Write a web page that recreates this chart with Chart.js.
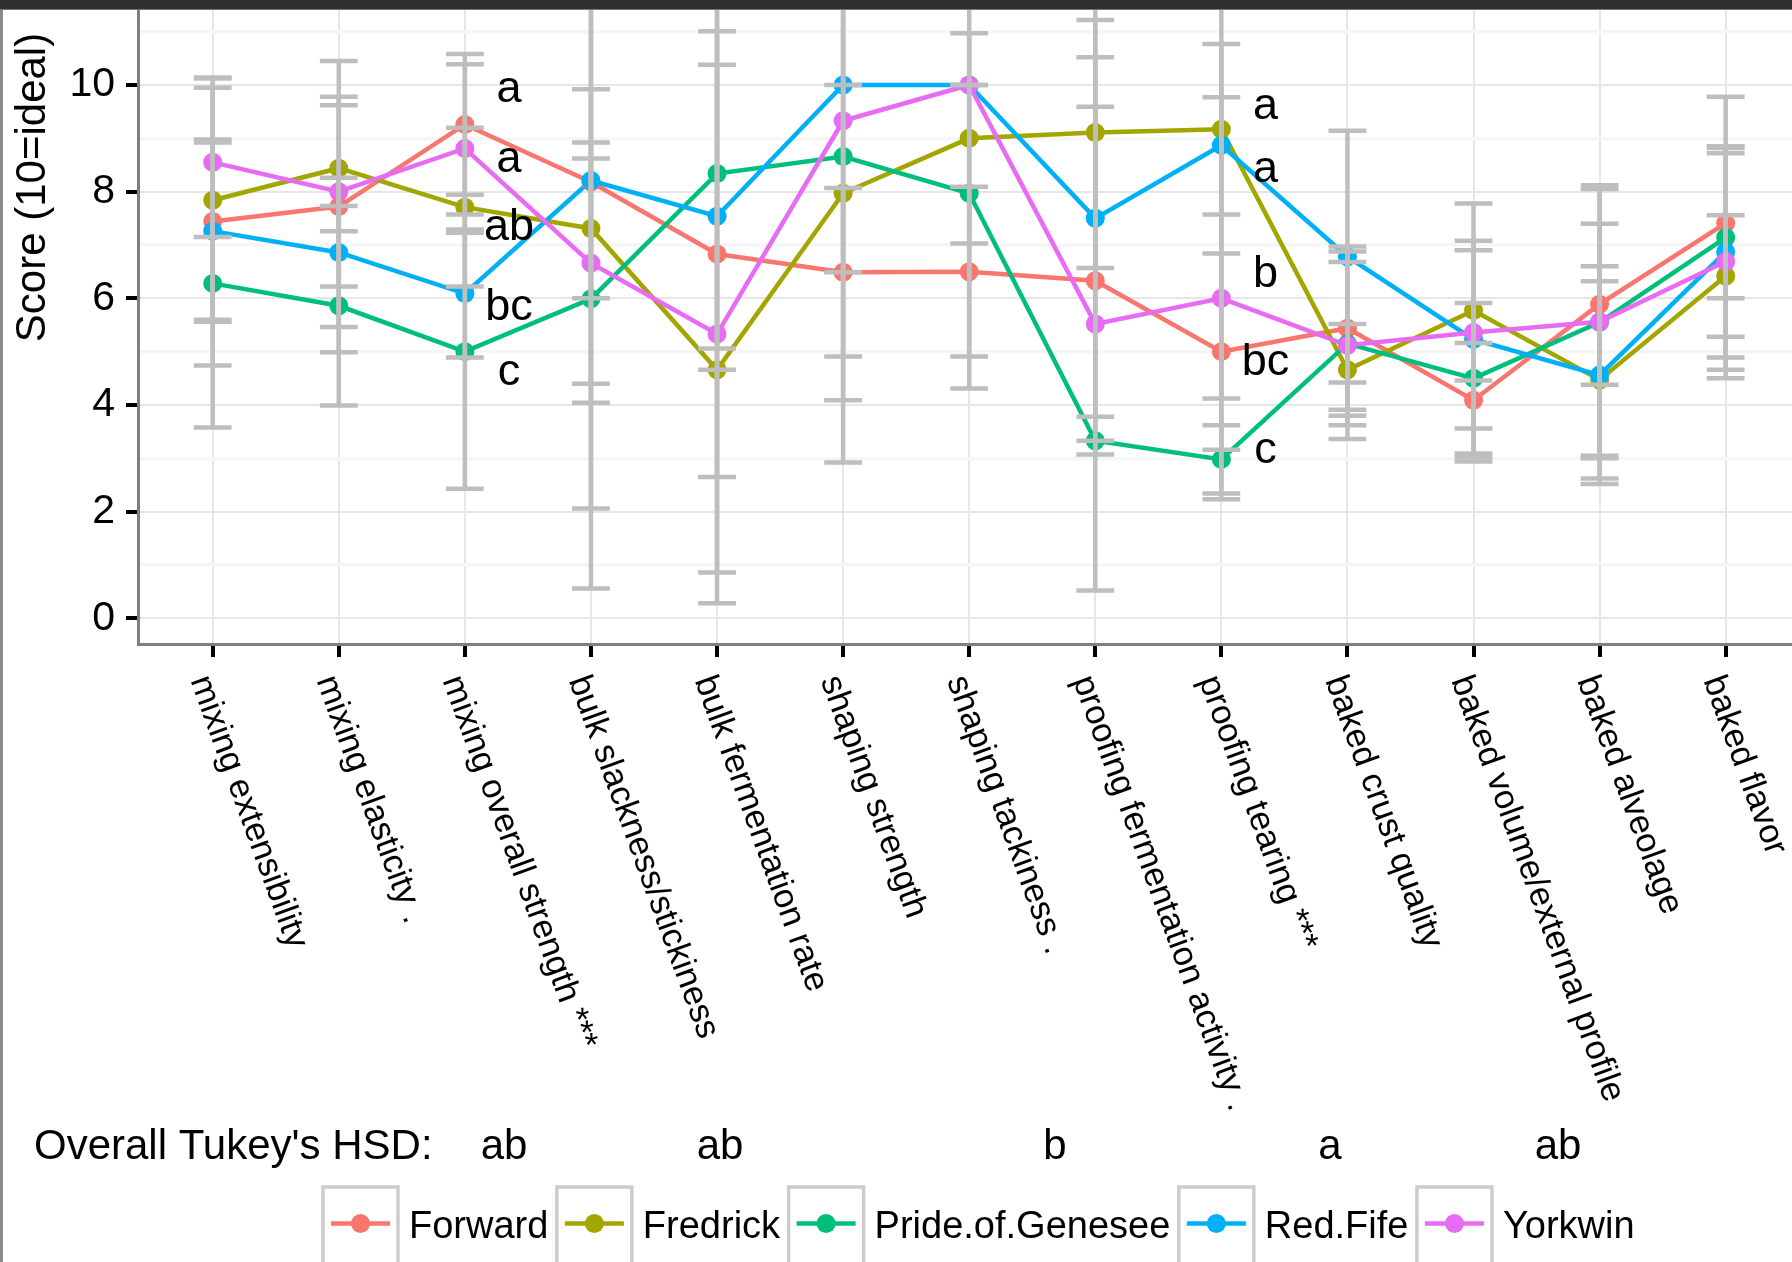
<!DOCTYPE html>
<html>
<head>
<meta charset="utf-8">
<title>Sensory scores by cultivar</title>
<script src="https://cdn.jsdelivr.net/npm/chart.js@4.4.1/dist/chart.umd.min.js"></script>
<style>
  html, body { margin: 0; padding: 0; background: #ffffff; }
  #wrap { position: relative; width: 1792px; height: 1262px; overflow: hidden; background: #ffffff; }
  #chart { position: absolute; left: 0; top: 0; }
  .frame-top { position: absolute; left: 0; top: 0; width: 1792px; height: 9px; background: #2f2f2f; border-bottom: 1px solid #767676; }
  .frame-left { position: absolute; left: 0; top: 0; width: 3px; height: 1262px; background: #8a8a8a; }
</style>
</head>
<body>
<div id="wrap">
  <canvas id="chart" width="1792" height="1262"></canvas>
  <div class="frame-left"></div>
  <div class="frame-top"></div>
</div>
<script>
// ---- data ----
const categories = [
  'mixing extensibility',
  'mixing elasticity .',
  'mixing overall strength ***',
  'bulk slackness/stickiness',
  'bulk fermentation rate',
  'shaping strength',
  'shaping tackiness .',
  'proofing fermentation activity .',
  'proofing tearing ***',
  'baked crust quality',
  'baked volume/external profile',
  'baked alveolage',
  'baked flavor'
];

const cultivars = ['Forward', 'Fredrick', 'Pride.of.Genesee', 'Red.Fife', 'Yorkwin'];

// mean scores per attribute
const forwardMean  = [7.44, 7.72, 9.26, 8.18, 6.83, 6.49, 6.50, 6.33, 5.00, 5.44, 4.09, 5.89, 7.41];
const fredrickMean = [7.84, 8.44, 7.71, 7.31, 4.66, 7.97, 9.00, 9.11, 9.17, 4.66, 5.77, 4.47, 6.42];
const prideMean    = [6.28, 5.86, 5.00, 5.99, 8.34, 8.66, 7.97, 3.33, 2.98, 5.15, 4.50, 5.55, 7.14];
const redFifeMean  = [7.26, 6.86, 6.09, 8.21, 7.54, 10.00, 10.00, 7.50, 8.87, 6.78, 5.23, 4.56, 6.87];
const yorkwinMean  = [8.55, 8.00, 8.81, 6.66, 5.33, 9.33, 10.00, 5.52, 6.00, 5.12, 5.36, 5.56, 6.69];

// half-width of each error bar
const forwardErr  = [2.70, 2.73, 1.32, 4.14, 4.18, 1.58, 1.59, 3.26, 1.84, 1.53, 1.07, 1.51, 1.41];
const fredrickErr = [2.28, 1.18, 1.49, 1.31, 0.00, 3.88, 1.97, 2.54, 1.60, 0.86, 1.31, 1.85, 1.14];
const prideErr    = [2.70, 1.87, 2.57, 3.93, 3.28, 5.74, 3.66, 0.00, 0.64, 1.53, 1.41, 2.50, 2.64];
const redFifeErr  = [1.66, 1.40, 1.20, 7.65, 6.68, 0.00, 0.00, 3.72, 4.75, 2.36, 1.67, 2.04, 1.98];
const yorkwinErr  = [1.40, 1.78, 1.58, 2.26, 5.05, 2.84, 0.00, 5.00, 3.77, 1.76, 2.42, 2.56, 2.03];

// y axis
const yTickLabels = [0, 2, 4, 6, 8, 10];
const yGridValues = [0, 1, 2, 3, 4, 5, 6, 7, 8, 9, 10, 11];

// Tukey letters for the two significant attributes (letter, y position in score units)
const strengthAttr = 'mixing overall strength ***';
const strengthLetters = ['a', 'a', 'ab', 'bc', 'c'];
const strengthLetterY = [9.69, 8.37, 7.09, 5.59, 4.38];
const tearingAttr = 'proofing tearing ***';
const tearingLetters = ['a', 'a', 'b', 'bc', 'c'];
const tearingLetterY = [9.37, 8.19, 6.21, 4.56, 2.91];

// overall Tukey's HSD grouping, one per cultivar
const overallHSD = ['ab', 'ab', 'b', 'a', 'ab'];

// ---- styling ----
const colours = ['#F8766D', '#A3A500', '#00BF7D', '#00B0F6', '#E76BF3'];
const FONT = '"Liberation Sans", Arial, Helvetica, sans-serif';
const seriesMeans = [forwardMean, fredrickMean, prideMean, redFifeMean, yorkwinMean];
const seriesErr = [forwardErr, fredrickErr, prideErr, redFifeErr, yorkwinErr];

// lines first, then points on top (later cultivars drawn above earlier ones)
const datasets = [];
seriesMeans.forEach((means, s) => {
  datasets.push({
    label: cultivars[s],
    data: means.map((v, i) => ({ x: i, y: v })),
    borderColor: colours[s],
    backgroundColor: colours[s],
    borderWidth: 4.5,
    pointRadius: 0,
    pointHoverRadius: 0,
    tension: 0,
    fill: false,
    order: 20 - s
  });
});
seriesMeans.forEach((means, s) => {
  datasets.push({
    label: cultivars[s] + ' mean',
    data: means.map((v, i) => ({ x: i, y: v })),
    showLine: false,
    borderColor: colours[s],
    backgroundColor: colours[s],
    pointBackgroundColor: colours[s],
    pointBorderWidth: 0,
    pointRadius: 9.5,
    pointHoverRadius: 9.5,
    order: 10 - s
  });
});

// gray error bars with caps, clipped to the panel
const errorBarPlugin = {
  id: 'errorBars',
  afterDatasetsDraw(chart) {
    const { ctx, chartArea: a, scales: { x, y } } = chart;
    ctx.save();
    ctx.beginPath();
    ctx.rect(a.left, a.top, a.right - a.left, a.bottom - a.top);
    ctx.clip();
    ctx.strokeStyle = '#BEBEBE';
    ctx.lineWidth = 4.5;
    ctx.lineCap = 'butt';
    seriesMeans.forEach((means, s) => {
      means.forEach((m, i) => {
        const e = seriesErr[s][i];
        const xc = x.getPixelForValue(i);
        const xl = x.getPixelForValue(i - 0.15);
        const xr = x.getPixelForValue(i + 0.15);
        const yHi = y.getPixelForValue(m + e);
        const yLo = y.getPixelForValue(m - e);
        ctx.beginPath();
        ctx.moveTo(xc, yHi); ctx.lineTo(xc, yLo);
        ctx.moveTo(xl, yHi); ctx.lineTo(xr, yHi);
        ctx.moveTo(xl, yLo); ctx.lineTo(xr, yLo);
        ctx.stroke();
      });
    });
    ctx.restore();
  }
};

// rotated category labels, letters, axis title, HSD line and legend
const textPlugin = {
  id: 'chartText',
  afterDraw(chart) {
    const { ctx, scales: { x, y } } = chart;
    ctx.save();
    ctx.fillStyle = '#000';

    // category labels, rotated clockwise below each tick
    ctx.font = `34.5px ${FONT}`;
    ctx.textAlign = 'left';
    ctx.textBaseline = 'alphabetic';
    const labelTop = chart.chartArea.bottom + 28;
    categories.forEach((c, i) => {
      ctx.save();
      ctx.translate(x.getPixelForValue(i), labelTop);
      ctx.rotate(70 * Math.PI / 180);
      ctx.fillText(c, 0, 24);
      ctx.restore();
    });

    // Tukey letters beside the significant attributes
    ctx.font = `45px ${FONT}`;
    ctx.textAlign = 'center';
    const si = categories.indexOf(strengthAttr);
    strengthLetters.forEach((t, k) => {
      ctx.fillText(t, x.getPixelForValue(si + 0.35), y.getPixelForValue(strengthLetterY[k]));
    });
    const ti = categories.indexOf(tearingAttr);
    tearingLetters.forEach((t, k) => {
      ctx.fillText(t, x.getPixelForValue(ti + 0.35), y.getPixelForValue(tearingLetterY[k]));
    });

    // y axis title
    ctx.save();
    ctx.font = `42px ${FONT}`;
    ctx.translate(33.5, 187.5);
    ctx.rotate(-Math.PI / 2);
    ctx.textAlign = 'center';
    ctx.fillText('Score (10=ideal)', 0, 11);
    ctx.restore();

    // overall HSD line
    ctx.font = `42px ${FONT}`;
    ctx.textAlign = 'left';
    ctx.fillText("Overall Tukey's HSD:", 34, 1159);
    ctx.textAlign = 'center';
    const hsdX = [504, 720, 1055, 1330, 1558];
    overallHSD.forEach((t, s) => ctx.fillText(t, hsdX[s], 1159));

    // legend
    ctx.font = `38px ${FONT}`;
    ctx.textAlign = 'left';
    let lx = 323;
    const keyTop = 1187, keyW = 75, keyH = 80, keyMid = 1223.5;
    cultivars.forEach((name, s) => {
      ctx.fillStyle = '#ffffff';
      ctx.fillRect(lx, keyTop, keyW, keyH);
      ctx.strokeStyle = '#CCCCCC';
      ctx.lineWidth = 3.5;
      ctx.strokeRect(lx, keyTop, keyW, keyH);
      ctx.strokeStyle = colours[s];
      ctx.lineWidth = 4.5;
      ctx.beginPath();
      ctx.moveTo(lx + 8, keyMid);
      ctx.lineTo(lx + keyW - 8, keyMid);
      ctx.stroke();
      ctx.fillStyle = colours[s];
      ctx.beginPath();
      ctx.arc(lx + keyW / 2, keyMid, 9.5, 0, Math.PI * 2);
      ctx.fill();
      ctx.fillStyle = '#000';
      ctx.fillText(name, lx + 86, 1238);
      lx += 86 + ctx.measureText(name).width + 8.5;
    });
    ctx.restore();
  }
};

new Chart(document.getElementById('chart'), {
  type: 'line',
  data: { datasets },
  plugins: [errorBarPlugin, textPlugin],
  options: {
    responsive: false,
    animation: false,
    devicePixelRatio: 1,
    events: [],
    layout: { padding: 0, autoPadding: false },
    plugins: {
      legend: { display: false },
      tooltip: { enabled: false }
    },
    scales: {
      x: {
        type: 'linear',
        min: -0.5925,
        max: 12.526,
        afterBuildTicks: (s) => { s.ticks = categories.map((_, i) => ({ value: i })); },
        afterFit: (s) => { s.height = 618; s.paddingLeft = 0; s.paddingRight = 0; },
        ticks: { display: false },
        grid: {
          color: '#E6E6E6',
          lineWidth: 2,
          drawTicks: true,
          tickColor: '#000000',
          tickLength: 13,
          tickWidth: 4
        },
        border: { display: true, color: '#7F7F7F', width: 3 }
      },
      y: {
        type: 'linear',
        min: -0.482,
        max: 11.594,
        afterBuildTicks: (s) => { s.ticks = yGridValues.map(v => ({ value: v })); },
        afterFit: (s) => { s.width = 138; s.paddingTop = 0; s.paddingBottom = 0; },
        ticks: {
          autoSkip: false,
          padding: 11,
          color: '#000000',
          font: { family: FONT, size: 41 },
          callback: (v) => yTickLabels.includes(v) ? String(v) : ''
        },
        grid: {
          color: (c) => (c.tick && c.tick.value % 2 === 0) ? '#E6E6E6' : '#F6F6F6',
          lineWidth: (c) => (c.tick && c.tick.value % 2 === 0) ? 2 : 3.5,
          drawTicks: true,
          tickColor: (c) => (c.tick && c.tick.value % 2 === 0) ? '#000000' : 'rgba(0,0,0,0)',
          tickLength: 12,
          tickWidth: 4
        },
        border: { display: true, color: '#7F7F7F', width: 3 }
      }
    }
  }
});
</script>
</body>
</html>
